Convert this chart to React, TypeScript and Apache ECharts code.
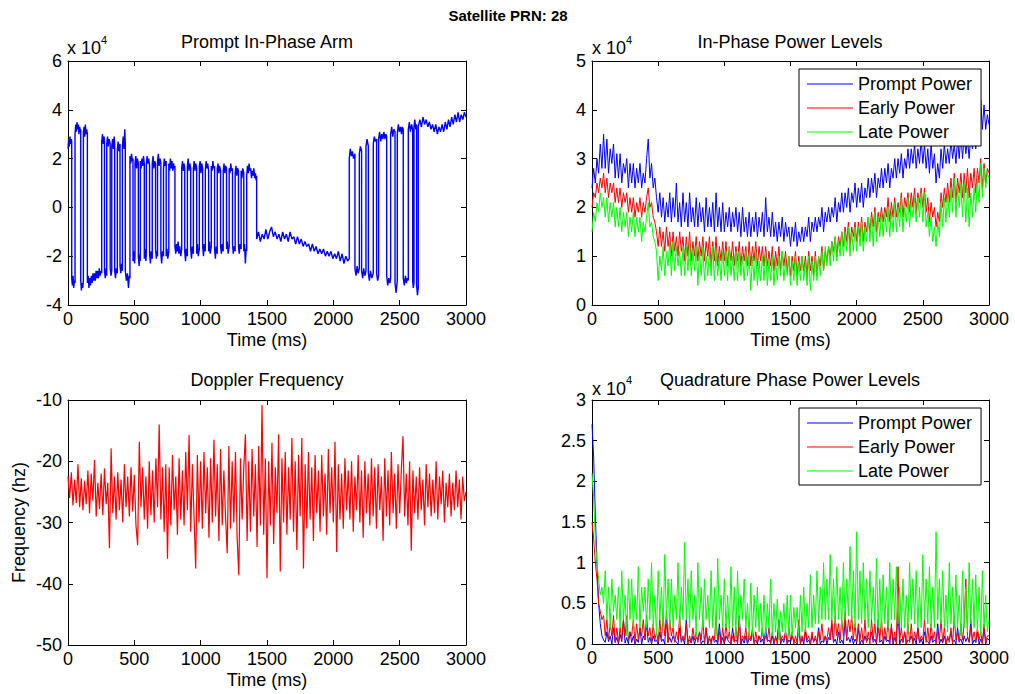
import React, { useEffect, useRef } from "react";
import * as echarts from "echarts";

const FONT = '"Liberation Sans", Arial, Helvetica, sans-serif';

// ---------- Prompt In-Phase Arm (x10^4) : [time ms, value] ----------
const inPhaseArm: [number, number][] = [
  [0,2.4],[5,2.8],[10,2.5],[15,2.9],[20,2.6],[25,2.8],[28,2.7],
  [28,-2.9],[33,-3.2],[38,-2.8],[43,-3.3],[48,-3.0],[53,-3.1],
  [53,3.0],[58,3.4],[63,3.1],[68,3.5],[73,3.2],[78,3.4],[83,3.0],[88,3.3],[93,3.1],[96,3.2],
  [96,-3.0],[101,-3.4],[106,-3.1],[111,-3.3],[116,-3.0],
  [116,3.1],[121,3.3],[126,2.9],[131,3.4],[136,3.0],[141,3.2],[146,3.0],
  [146,-3.1],[152,-2.8],[158,-3.3],[164,-2.9],[170,-3.2],[176,-2.8],[182,-3.1],[188,-2.7],[194,-3.0],[200,-2.7],[206,-3.0],[212,-2.6],[218,-2.9],[224,-2.6],[230,-2.9],[236,-2.5],[242,-2.8],[248,-2.6],[254,-2.7],
  [254,2.7],[260,3.0],[266,2.6],[272,2.9],[275,2.7],
  [275,-2.6],[281,-2.9],[287,-2.5],[292,-2.8],
  [292,2.6],[298,2.9],[304,2.5],[310,2.8],[318,2.6],
  [318,-2.5],[324,-2.8],[330,-2.6],
  [330,2.5],[336,2.8],[342,2.4],[348,2.9],[352,2.6],
  [352,-2.6],[358,-2.9],[364,-2.5],[372,-2.7],
  [372,2.4],[378,2.7],[384,2.3],[392,2.6],
  [392,-2.4],[398,-2.7],[404,-2.3],[410,-2.6],
  [410,2.5],[416,2.9],[422,2.4],[428,3.2],[432,2.6],
  [432,-2.6],[440,-3.0],[448,-2.7],[456,-3.3],[462,-2.8],[467,-2.9],
  [467,2.1],[473,1.8],[479,2.2],[485,1.9],[490,2.0],
  [490,-2.2],[496,-1.8],[502,-2.3],[505,-2.0],
  [505,1.8],[511,2.1],[517,1.6],[523,2.0],[530,1.8],
  [530,-2.0],[536,-2.4],[542,-1.9],[545,-2.2],
  [545,1.9],[551,1.6],[557,2.0],[563,1.7],[569,2.1],[575,1.8],
  [575,-2.1],[581,-1.7],[587,-2.2],[590,-1.9],
  [590,1.7],[596,2.1],[602,1.8],[608,2.0],[615,1.7],
  [615,-1.9],[621,-2.3],[627,-1.8],[635,-2.1],
  [635,1.8],[641,2.1],[647,1.6],[653,1.9],[660,1.8],
  [660,-1.7],[666,-2.1],[672,-1.8],[675,-2.0],
  [675,1.9],[681,2.2],[687,1.7],[694,2.0],[700,1.8],
  [700,-1.9],[706,-2.3],[712,-1.8],[720,-2.0],
  [720,1.6],[726,2.0],[732,1.7],[740,1.9],
  [740,-2.0],[746,-1.7],[752,-2.1],[760,-1.8],
  [760,1.8],[766,1.5],[772,2.0],[778,1.6],[784,1.9],[790,1.5],[796,1.8],[802,1.6],[806,1.7],
  [806,-1.6],[812,-1.9],[818,-1.5],[824,-1.8],[830,-1.4],[836,-1.9],[842,-1.6],[850,-2.0],[857,-1.7],
  [857,1.6],[863,1.9],[869,1.5],[875,1.8],[880,1.6],
  [880,-1.8],[886,-2.2],[892,-1.7],[900,-2.0],
  [900,1.7],[906,2.0],[912,1.5],[918,1.8],[925,1.6],
  [925,-1.7],[931,-2.1],[937,-1.6],[945,-1.9],
  [945,1.6],[951,1.9],[957,1.5],[963,1.8],[970,1.6],
  [970,-1.9],[976,-1.5],[982,-2.0],[990,-1.7],
  [990,1.7],[996,1.9],[1002,1.4],[1008,1.8],[1015,1.6],
  [1015,-1.6],[1021,-2.0],[1027,-1.5],[1035,-1.8],
  [1035,1.5],[1041,1.9],[1047,1.6],[1053,1.8],[1060,1.5],
  [1060,-1.8],[1066,-1.4],[1072,-1.9],[1080,-1.6],
  [1080,1.7],[1086,1.5],[1092,1.9],[1098,1.6],[1105,1.7],
  [1105,-1.7],[1111,-2.1],[1117,-1.6],[1125,-1.9],
  [1125,1.6],[1131,1.8],[1137,1.4],[1143,1.7],[1150,1.5],
  [1150,-1.6],[1156,-1.9],[1162,-1.5],[1170,-1.8],
  [1170,1.5],[1176,1.8],[1182,1.4],[1188,1.7],[1195,1.6],
  [1195,-1.7],[1201,-1.4],[1207,-1.9],[1215,-1.6],
  [1215,1.6],[1221,1.4],[1227,1.8],[1233,1.5],[1240,1.6],
  [1240,-1.5],[1246,-1.9],[1252,-1.6],[1260,-1.8],
  [1260,1.4],[1266,1.7],[1272,1.3],[1278,1.6],[1285,1.5],
  [1285,-1.6],[1291,-1.9],[1297,-1.5],[1305,-1.7],
  [1305,1.5],[1311,1.2],[1317,1.6],[1325,1.4],
  [1325,-1.8],[1331,-1.5],[1337,-2.3],[1343,-1.7],[1347,-1.8],
  [1347,1.3],[1353,1.7],[1359,1.4],[1365,1.8],[1371,1.5],[1377,1.6],[1383,1.2],[1389,1.5],[1395,1.3],[1401,1.6],[1407,1.2],[1413,1.4],[1418,1.1],[1422,1.3],
  [1422,-1.3],[1436,-1.0],[1450,-1.4],[1464,-1.1],[1478,-1.3],[1492,-0.9],[1506,-1.3],[1520,-1.0],[1534,-0.8],[1548,-1.2],[1562,-1.0],[1576,-1.3],[1590,-1.1],[1604,-1.4],[1618,-1.0],[1632,-1.3],[1646,-1.1],[1660,-1.4],[1674,-1.0],[1688,-1.3],[1702,-1.2],[1716,-1.5],[1730,-1.2],[1744,-1.5],[1758,-1.3],[1772,-1.6],[1786,-1.4],[1800,-1.6],[1814,-1.5],[1828,-1.8],[1842,-1.5],[1856,-1.8],[1870,-1.6],[1884,-1.9],[1898,-1.7],[1912,-1.9],[1926,-1.7],[1940,-2.0],[1954,-1.8],[1968,-2.0],[1982,-1.8],[1996,-2.1],[2010,-1.9],[2024,-2.1],[2038,-1.8],[2052,-2.2],[2066,-1.9],[2080,-2.3],[2094,-2.0],[2108,-2.2],[2120,-2.1],
  [2120,2.0],[2128,2.4],[2136,2.1],[2144,2.3],[2152,2.0],[2163,2.2],
  [2163,-2.5],[2171,-2.8],[2179,-2.4],[2187,-2.7],[2196,-2.5],
  [2196,2.2],[2204,2.5],[2213,2.3],
  [2213,-2.6],[2221,-2.9],[2229,-2.5],[2237,-2.8],[2246,-2.6],
  [2246,2.5],[2254,2.8],[2264,2.5],
  [2264,-2.7],[2272,-3.0],[2280,-2.6],[2290,-2.9],[2301,-2.7],
  [2301,2.6],[2309,2.9],[2317,2.7],[2326,2.8],
  [2326,-2.7],[2334,-3.0],[2341,-2.8],
  [2341,2.8],[2349,3.1],[2357,2.7],[2365,3.0],[2373,2.8],[2381,3.1],[2389,2.8],[2396,3.0],[2402,2.9],
  [2402,-2.8],[2410,-3.2],[2418,-2.9],[2426,-3.1],[2432,-2.9],
  [2432,3.0],[2440,3.3],[2448,2.9],[2456,3.2],[2465,3.1],
  [2465,-3.1],[2473,-3.5],[2482,-3.0],
  [2482,3.0],[2490,3.4],[2498,3.1],[2506,3.3],[2514,3.0],[2520,3.3],[2527,3.2],
  [2527,-2.9],[2535,-3.2],[2543,-2.8],[2551,-3.1],[2558,-2.9],[2565,-3.0],
  [2565,3.2],[2573,3.5],[2581,3.1],[2590,3.4],[2598,3.2],
  [2598,-3.0],[2603,-3.3],[2608,-3.1],
  [2608,3.3],[2614,3.6],[2621,3.2],[2628,3.4],
  [2628,-3.2],[2634,-3.6],[2640,-3.3],
  [2640,3.3],[2652,3.6],[2664,3.3],[2676,3.7],[2688,3.4],[2700,3.6],[2712,3.3],[2724,3.5],[2736,3.2],[2748,3.4],[2760,3.1],[2772,3.4],[2784,3.0],[2796,3.3],[2808,3.1],[2820,3.4],[2832,3.1],[2844,3.5],[2856,3.2],[2868,3.6],[2880,3.3],[2892,3.7],[2904,3.4],[2916,3.8],[2928,3.5],[2940,3.9],[2952,3.5],[2964,3.8],[2976,3.6],[2988,3.9],[3000,3.7],
];

// ---------- In-Phase Power Levels (x10^4), one sample every POWER_STEP_MS ----------
const POWER_STEP_MS = 12.5;
const ipPrompt = [
  2.4,2.8,2.5,3.0,2.7,3.3,2.8,3.5, 2.8,3.4,2.7,3.2,2.9,3.3,2.6,3.1,
  2.6,3.1,2.5,2.9,2.7,3.0,2.4,2.9, 2.5,2.9,2.4,2.8,2.5,2.9,2.4,2.7,
  2.5,3.0,3.4,2.6,2.9,2.4,2.6,2.2, 1.9,2.3,1.8,2.2,1.7,2.1,1.8,2.3,
  1.7,2.2,1.8,2.5,1.7,2.1,1.6,2.3, 1.7,2.1,1.6,2.3,1.7,2.0,1.6,2.2,
  1.6,2.1,1.7,2.0,1.5,2.2,1.6,2.0, 1.6,2.1,1.5,2.3,1.6,2.0,1.5,2.1,
  1.5,1.9,1.6,2.0,1.5,1.9,1.6,2.0, 1.5,1.9,1.4,2.0,1.5,1.8,1.4,1.9,
  1.4,1.8,1.5,1.9,1.4,1.8,1.5,1.9, 1.4,2.2,1.5,1.8,1.4,1.9,1.4,1.7,
  1.3,1.7,1.4,1.8,1.3,1.7,1.4,1.6, 1.2,1.6,1.3,1.7,1.2,1.5,1.3,1.6,
  1.3,1.6,1.4,1.8,1.3,1.7,1.5,1.8, 1.5,1.8,1.6,2.0,1.5,1.9,1.7,2.0,
  1.7,2.0,1.8,2.2,1.7,2.1,1.9,2.3, 1.9,2.3,2.0,2.4,1.9,2.3,2.1,2.5,
  2.0,2.4,2.1,2.5,2.0,2.4,2.2,2.6, 2.2,2.6,2.3,2.7,2.2,2.6,2.4,2.8,
  2.4,2.8,2.5,2.9,2.4,2.8,2.6,3.0, 2.6,3.0,2.7,3.1,2.6,3.0,2.8,3.2,
  2.8,3.2,2.9,3.3,2.8,3.2,2.9,3.4, 2.9,3.3,2.8,3.2,2.7,3.3,2.8,3.1,
  2.5,2.9,2.6,3.2,2.8,3.3,2.9,3.2, 2.9,3.4,3.0,3.3,2.9,3.4,3.0,3.5,
  3.0,3.5,3.1,3.4,3.0,3.5,3.2,3.6, 3.2,3.6,3.4,4.2,3.6,4.1,3.6,3.9,
  3.7,
];
const ipEarly = [
  2.0,2.3,2.2,2.5,2.3,2.6,2.4,2.7, 2.3,2.6,2.2,2.5,2.3,2.5,2.1,2.4,
  2.1,2.4,2.0,2.3,2.1,2.3,1.9,2.2, 1.9,2.2,1.8,2.1,1.9,2.2,1.8,2.1,
  1.9,2.2,2.4,2.0,2.1,1.8,1.7,1.5, 1.2,1.6,1.2,1.5,1.1,1.6,1.2,1.5,
  1.0,1.5,1.1,1.4,1.0,1.5,1.1,1.4, 0.9,1.4,1.0,1.5,0.9,1.3,1.0,1.4,
  0.9,1.3,1.0,1.4,0.9,1.3,1.0,1.4, 0.8,1.3,0.9,1.4,0.8,1.2,0.9,1.3,
  0.9,1.3,0.8,1.2,0.9,1.3,0.8,1.2, 0.9,1.3,0.8,1.2,0.9,1.2,0.8,1.3,
  0.8,1.2,0.9,1.3,0.8,1.2,0.9,1.2, 0.8,1.2,0.8,1.1,0.8,1.2,0.7,1.1,
  0.8,1.2,0.7,1.1,0.8,1.1,0.7,1.0, 0.6,1.0,0.7,1.1,0.6,1.0,0.7,1.0,
  0.7,1.0,0.6,1.1,0.7,1.0,0.6,1.1, 0.6,1.0,0.8,1.2,0.7,1.1,0.9,1.2,
  1.0,1.3,1.1,1.4,1.0,1.4,1.2,1.5, 1.2,1.6,1.3,1.7,1.2,1.6,1.4,1.7,
  1.3,1.7,1.4,1.8,1.3,1.7,1.5,1.8, 1.5,1.9,1.6,2.0,1.5,1.9,1.7,2.0,
  1.7,2.0,1.8,2.2,1.7,2.1,1.8,2.2, 1.8,2.1,1.9,2.3,1.8,2.2,2.0,2.3,
  1.9,2.3,2.0,2.4,1.9,2.3,2.1,2.4, 2.0,2.4,1.9,2.2,1.7,2.1,1.8,2.0,
  1.6,1.9,1.7,2.3,2.0,2.4,2.1,2.5, 2.1,2.6,2.2,2.7,2.1,2.6,2.3,2.7,
  2.2,2.7,2.3,2.8,2.2,2.7,2.4,2.8, 2.3,2.8,2.5,3.0,2.4,2.9,2.5,2.8,
  2.7,
];
const ipLate = [
  1.5,1.9,1.7,2.1,1.9,2.3,2.0,2.2, 1.8,2.2,1.7,2.1,1.8,2.1,1.6,2.0,
  1.6,2.0,1.5,1.9,1.6,1.9,1.4,1.8, 1.5,1.9,1.4,1.8,1.5,1.8,1.3,1.7,
  1.5,1.8,2.1,1.6,1.7,1.4,1.3,1.1, 0.5,1.0,0.7,1.2,0.6,1.1,0.8,1.3,
  0.6,1.3,0.7,1.2,0.8,1.1,0.6,1.2, 0.6,1.2,0.7,1.3,0.6,1.1,0.7,1.2,
  0.4,1.1,0.6,1.2,0.5,1.0,0.6,1.1, 0.6,1.2,0.5,1.1,0.6,1.0,0.5,1.1,
  0.6,1.1,0.5,1.2,0.6,1.0,0.5,1.1, 0.5,1.1,0.6,1.0,0.5,1.1,0.6,1.0,
  0.3,1.0,0.5,1.1,0.4,0.9,0.5,1.0, 0.5,1.1,0.4,0.9,0.5,1.0,0.4,0.9,
  0.5,1.0,0.6,1.1,0.5,0.9,0.6,1.0, 0.4,0.9,0.5,1.0,0.4,0.9,0.5,1.0,
  0.5,0.9,0.4,1.0,0.3,0.9,0.5,1.0, 0.5,1.0,0.6,1.1,0.7,1.2,0.8,1.2,
  0.8,1.3,0.9,1.4,0.9,1.3,1.0,1.5, 1.0,1.5,1.1,1.6,1.0,1.5,1.1,1.6,
  1.1,1.6,1.2,1.7,1.1,1.6,1.3,1.8, 1.3,1.8,1.2,1.9,1.3,1.8,1.4,1.9,
  1.4,1.9,1.5,2.0,1.4,1.9,1.5,2.1, 1.5,2.0,1.6,2.2,1.5,2.0,1.7,2.2,
  1.6,2.1,1.8,2.2,1.7,2.2,1.8,2.3, 1.7,2.3,1.6,1.9,1.4,1.8,1.3,1.6,
  1.2,1.7,1.4,2.1,1.6,2.2,1.7,2.3, 1.8,2.4,1.9,2.6,1.8,2.4,2.0,2.5,
  1.8,2.5,1.7,2.4,1.6,2.3,1.8,2.4, 1.9,2.6,2.1,2.9,2.2,2.8,2.4,2.7,
  2.6,
];

// ---------- Doppler Frequency (hz), one sample every DOPPLER_STEP_MS ----------
const DOPPLER_STEP_MS = 12.5;
const doppler = [
  -22.5,-26.0,-21.8,-27.2,-23.0,-26.8,-20.5,-27.5,-22.8,-28.0,
  -23.2,-27.0,-21.5,-28.5,-22.0,-26.5,-19.8,-29.0,-23.5,-27.8,
  -22.0,-28.8,-21.2,-27.0,-23.5,-34.2,-17.9,-28.5,-22.5,-29.5,
  -21.8,-28.0,-23.0,-30.0,-20.5,-27.5,-22.5,-29.0,-21.0,-28.2,
  -22.2,-30.5,-33.7,-16.8,-27.5,-21.0,-29.5,-22.5,-31.0,-20.0,
  -28.8,-21.5,-30.0,-19.5,-27.5,-14.0,-29.5,-21.0,-31.5,-20.5,
  -35.9,-21.0,-30.5,-19.0,-28.0,-22.5,-32.0,-19.5,-29.5,-21.5,
  -30.5,-18.5,-28.0,-15.7,-31.5,-20.5,-29.0,-37.5,-19.0,-30.0,
  -20.0,-31.0,-18.5,-28.5,-21.0,-32.5,-19.5,-30.0,-16.5,-29.0,
  -20.5,-33.0,-18.0,-30.5,-21.5,-29.0,-35.0,-17.5,-31.0,-20.0,
  -30.0,-18.5,-32.5,-38.6,-19.5,-29.5,-21.0,-15.6,-33.0,-20.0,
  -31.5,-18.0,-29.0,-20.5,-34.0,-17.5,-30.5,-10.8,-32.0,-19.5,
  -39.1,-20.0,-30.5,-17.0,-33.5,-21.0,-28.5,-15.6,-38.0,-19.5,
  -30.0,-18.5,-32.0,-21.0,-29.5,-16.2,-31.5,-20.0,-34.5,-19.0,
  -29.0,-16.2,-37.5,-20.5,-31.0,-18.5,-29.5,-21.0,-33.0,-19.0,
  -28.5,-21.5,-31.5,-19.0,-29.0,-22.0,-32.0,-18.0,-28.5,-21.0,
  -30.0,-16.8,-34.8,-20.5,-29.5,-22.0,-31.0,-19.5,-28.0,-21.5,
  -29.5,-20.0,-31.5,-22.5,-28.0,-19.0,-30.0,-21.5,-32.5,-20.0,
  -28.5,-22.0,-30.5,-19.5,-29.0,-21.0,-31.0,-20.5,-28.0,-22.5,
  -33.0,-19.5,-29.0,-21.5,-30.5,-18.5,-28.5,-22.0,-31.0,-20.5,
  -28.5,-21.5,-15.9,-29.0,-22.0,-30.5,-20.0,-34.6,-21.5,-28.5,
  -22.5,-29.5,-21.0,-28.0,-23.0,-30.5,-20.5,-27.5,-22.0,-29.0,
  -23.0,-28.5,-20.0,-29.5,-22.5,-27.0,-21.5,-30.0,-23.5,-27.5,
  -22.0,-29.0,-23.5,-28.0,-21.5,-27.5,-23.0,-29.5,-22.5,-26.5,
  -25.0,
];

// ---------- Quadrature Phase Power Levels (x10^4), one sample every POWER_STEP_MS ----------
const qpPrompt = [
  2.7,2.3,1.6,1.0,0.5,0.25,0.1,0.05, 0.02,0.15,0.03,0.1,0.0,0.2,0.02,0.08,
  0.0,0.12,0.03,0.3,0.01,0.08,0.0,0.15, 0.02,0.1,0.0,0.06,0.02,0.2,0.0,0.1,
  0.05,0.25,0.02,0.08,0.0,0.1,0.03,0.05, 0.0,0.15,0.03,0.06,0.0,0.4,0.02,0.08,
  0.02,0.1,0.05,0.02,0.0,0.2,0.03,0.07, 0.0,0.3,0.02,0.05,0.01,0.1,0.0,0.08,
  0.05,0.15,0.0,0.04,0.02,0.2,0.0,0.06, 0.03,0.1,0.02,0.05,0.0,0.25,0.01,0.08,
  0.0,0.1,0.05,0.02,0.0,0.2,0.03,0.05, 0.02,0.35,0.0,0.06,0.01,0.1,0.0,0.07,
  0.04,0.15,0.02,0.05,0.0,0.1,0.02,0.06, 0.0,0.2,0.03,0.05,0.01,0.1,0.0,0.08,
  0.05,0.3,0.0,0.06,0.02,0.15,0.0,0.05, 0.02,0.1,0.04,0.02,0.0,0.2,0.01,0.07,
  0.0,0.15,0.02,0.05,0.0,0.1,0.03,0.06, 0.03,0.2,0.0,0.04,0.02,0.1,0.0,0.08,
  0.05,0.25,0.02,0.06,0.0,0.15,0.01,0.05, 0.0,0.3,0.04,0.08,0.02,0.1,0.0,0.06,
  0.02,0.2,0.0,0.05,0.01,0.1,0.03,0.07, 0.05,0.15,0.02,0.06,0.0,0.3,0.02,0.05,
  0.0,0.1,0.03,0.05,0.01,0.2,0.0,0.08, 0.02,0.4,0.0,0.06,0.02,0.15,0.0,0.05,
  0.04,0.1,0.02,0.07,0.0,0.2,0.01,0.06, 0.0,0.15,0.05,0.03,0.0,0.1,0.02,0.05,
  0.02,0.25,0.0,0.06,0.01,0.1,0.0,0.07, 0.05,0.15,0.02,0.05,0.0,0.2,0.03,0.06,
  0.0,0.1,0.03,0.08,0.02,0.3,0.0,0.05, 0.02,0.15,0.0,0.06,0.01,0.2,0.0,0.07,
  0.05,
];
const qpEarly = [
  1.5,1.3,1.0,0.8,0.5,0.4,0.3,0.35, 0.1,0.3,0.05,0.25,0.1,0.35,0.02,0.2,
  0.02,0.2,0.05,0.3,0.1,0.35,0.05,0.15, 0.1,0.3,0.02,0.25,0.05,0.2,0.1,0.3,
  0.05,0.35,0.1,0.2,0.02,0.25,0.05,0.15, 0.02,0.3,0.05,0.35,0.1,0.25,0.02,0.3,
  0.1,0.2,0.02,0.15,0.05,0.35,0.02,0.1, 0.05,0.25,0.0,0.1,0.02,0.2,0.05,0.15,
  0.02,0.15,0.05,0.3,0.0,0.2,0.02,0.1, 0.0,0.1,0.05,0.35,0.02,0.15,0.0,0.2,
  0.02,0.25,0.05,0.15,0.0,0.1,0.02,0.2, 0.0,0.3,0.02,0.1,0.05,0.2,0.0,0.15,
  0.05,0.2,0.0,0.15,0.02,0.1,0.05,0.2, 0.02,0.1,0.05,0.2,0.0,0.15,0.02,0.1,
  0.0,0.25,0.02,0.1,0.05,0.15,0.0,0.2, 0.05,0.15,0.0,0.1,0.02,0.3,0.0,0.1,
  0.02,0.2,0.05,0.1,0.0,0.15,0.02,0.1, 0.0,0.15,0.05,0.25,0.02,0.1,0.05,0.2,
  0.05,0.3,0.02,0.35,0.1,0.25,0.05,0.3, 0.1,0.4,0.05,0.3,0.15,0.35,0.05,0.25,
  0.02,0.25,0.05,0.2,0.0,0.3,0.02,0.15, 0.0,0.3,0.05,0.25,0.02,0.2,0.05,0.3,
  0.02,0.2,0.05,0.3,0.0,0.25,0.02,0.15, 0.0,0.95,0.05,0.2,0.02,0.15,0.0,0.25,
  0.02,0.25,0.0,0.15,0.05,0.2,0.02,0.1, 0.05,0.3,0.02,0.2,0.0,0.25,0.05,0.15,
  0.0,0.15,0.05,0.3,0.02,0.2,0.0,0.1, 0.02,0.2,0.0,0.35,0.05,0.15,0.02,0.25,
  0.05,0.25,0.8,0.1,0.02,0.2,0.05,0.15, 0.02,0.2,0.05,0.15,0.0,0.25,0.02,0.1,
  0.1,
];
const qpLate = [
  2.1,1.8,1.3,1.0,0.8,0.6,0.7,0.5, 0.9,0.3,0.7,0.2,0.8,0.4,0.6,0.3,
  0.7,0.2,0.9,0.3,0.6,0.1,0.8,0.3, 0.8,0.2,0.6,0.3,0.95,0.2,0.7,0.4,
  0.7,0.2,0.8,0.3,1.0,0.2,0.6,0.1, 0.9,0.3,0.7,0.2,1.1,0.3,0.8,0.2,
  0.8,0.2,0.6,0.3,1.0,0.2,0.7,0.3, 1.25,0.3,0.8,0.2,0.9,0.3,0.6,0.1,
  1.0,0.3,0.7,0.2,0.8,0.3,0.6,0.2, 0.9,0.2,0.7,0.1,1.05,0.3,0.6,0.2,
  0.8,0.2,0.6,0.15,0.95,0.2,0.7,0.1, 0.9,0.2,0.6,0.3,0.8,0.2,0.5,0.1,
  0.75,0.1,0.6,0.2,0.7,0.15,0.5,0.1, 0.6,0.1,0.5,0.2,0.8,0.1,0.5,0.15,
  0.55,0.05,0.4,0.15,0.5,0.1,0.6,0.1, 0.6,0.1,0.45,0.2,0.45,0.1,0.6,0.15,
  0.7,0.15,0.5,0.2,0.85,0.2,0.6,0.25, 0.9,0.25,0.7,0.3,1.0,0.3,0.8,0.3,
  1.1,0.3,0.8,0.25,0.95,0.3,0.7,0.2, 1.0,0.3,0.8,0.35,1.2,0.3,0.9,0.2,
  1.38,0.3,0.9,0.25,1.0,0.3,0.8,0.2, 0.9,0.3,0.7,0.25,1.05,0.2,0.8,0.15,
  0.85,0.25,0.7,0.2,1.0,0.3,0.8,0.3, 0.95,0.25,0.7,0.2,0.8,0.2,0.6,0.15,
  1.0,0.3,0.8,0.25,0.9,0.2,0.7,0.2, 1.1,0.3,0.8,0.25,0.95,0.2,0.7,0.2,
  1.38,0.3,0.8,0.25,0.9,0.2,0.6,0.15, 1.0,0.25,0.7,0.2,0.85,0.2,0.6,0.1,
  0.9,0.2,0.7,0.15,1.0,0.25,0.8,0.2, 0.85,0.15,0.7,0.1,0.9,0.2,0.6,0.15,
  0.3,
];

// ---------- Axis ticks ----------
const TIME_MIN = 0;
const TIME_MAX = 3000;
const TIME_STEP = 500;
const POWER_NAMES = ["Prompt Power", "Early Power", "Late Power"];
const BLUE = "#0000ff";
const RED = "#ff0000";
const GREEN = "#00ff00";

function withTime(values: number[], step: number): [number, number][] {
  return values.map((v, i) => [i * step, v]);
}

const GRIDS = [
  { left: 68, top: 61, width: 398, height: 244 },
  { left: 592, top: 61, width: 397, height: 244 },
  { left: 68, top: 400, width: 398, height: 245 },
  { left: 592, top: 400, width: 397, height: 244 },
];

const Y_RANGES = [
  { min: -4, max: 6, interval: 2, name: "" },
  { min: 0, max: 5, interval: 1, name: "" },
  { min: -50, max: -10, interval: 10, name: "Frequency (hz)" },
  { min: 0, max: 3, interval: 0.5, name: "" },
];

const plain = (v: number) => String(v);

function buildAxes() {
  const xAxis: any[] = [];
  const yAxis: any[] = [];
  const line = { show: true, onZero: false, lineStyle: { color: "#000", width: 1 } };
  const tick = { show: true, inside: true, length: 5, lineStyle: { color: "#000", width: 1 } };
  GRIDS.forEach((_, g) => {
    const xb = {
      type: "value", gridIndex: g, min: TIME_MIN, max: TIME_MAX, interval: TIME_STEP,
      splitLine: { show: false }, axisLine: line, axisTick: tick,
    };
    xAxis.push({
      ...xb, position: "bottom",
      axisLabel: { color: "#000", fontSize: 18, fontFamily: FONT, margin: 5, formatter: plain },
      name: "Time (ms)", nameLocation: "middle", nameGap: 26,
      nameTextStyle: { color: "#000", fontSize: 18, fontFamily: FONT },
    });
    xAxis.push({ ...xb, position: "top", axisLabel: { show: false } });
    const r = Y_RANGES[g];
    const yb = {
      type: "value", gridIndex: g, min: r.min, max: r.max, interval: r.interval,
      splitLine: { show: false }, axisLine: line, axisTick: tick,
    };
    yAxis.push({
      ...yb, position: "left",
      axisLabel: { color: "#000", fontSize: 18, fontFamily: FONT, margin: 6, formatter: plain },
      name: r.name, nameLocation: "middle", nameGap: 40,
      nameTextStyle: { color: "#000", fontSize: 18, fontFamily: FONT },
    });
    yAxis.push({ ...yb, position: "right", axisLabel: { show: false } });
  });
  return { xAxis, yAxis };
}

function lineSeries(name: string, g: number, color: string, data: [number, number][], width = 1) {
  return {
    type: "line", name, xAxisIndex: 2 * g, yAxisIndex: 2 * g, data,
    showSymbol: false, symbol: "none", smooth: false,
    lineStyle: { color, width }, itemStyle: { color },
    emphasis: { disabled: true }, silent: true,
  };
}

function legendAt(top: number) {
  return {
    orient: "vertical", left: 799, top,
    data: POWER_NAMES, icon: "rect", itemWidth: 46, itemHeight: 1, itemGap: 6,
    padding: [6, 9, 5, 8], borderColor: "#000", borderWidth: 1, backgroundColor: "#fff",
    selectedMode: false,
    textStyle: { color: "#000", fontSize: 18, fontFamily: FONT, lineHeight: 18 },
  };
}

function txt(text: string, x: number, y: number, size: number, align = "center", bold = false) {
  return {
    type: "text", x, y, silent: true,
    style: {
      text, fill: "#000", align, verticalAlign: "middle",
      font: `${bold ? "bold " : ""}${size}px ${FONT}`,
    },
  };
}

export default function App() {
  const ref = useRef<HTMLDivElement>(null);
  useEffect(() => {
    if (!ref.current) return;
    const chart = echarts.init(ref.current, undefined, { renderer: "svg" });
    const { xAxis, yAxis } = buildAxes();
    chart.setOption({
      animation: false,
      backgroundColor: "#fff",
      grid: GRIDS.map((g) => ({ ...g, containLabel: false, outerBoundsMode: "none" })),
      xAxis,
      yAxis,
      legend: [legendAt(69), legendAt(408)],
      series: [
        lineSeries("Prompt In-Phase", 0, BLUE, inPhaseArm, 1.4),
        lineSeries(POWER_NAMES[0], 1, BLUE, withTime(ipPrompt, POWER_STEP_MS)),
        lineSeries(POWER_NAMES[1], 1, RED, withTime(ipEarly, POWER_STEP_MS)),
        lineSeries(POWER_NAMES[2], 1, GREEN, withTime(ipLate, POWER_STEP_MS)),
        lineSeries("Doppler", 2, RED, withTime(doppler, DOPPLER_STEP_MS), 1.2),
        lineSeries(POWER_NAMES[0], 3, BLUE, withTime(qpPrompt, POWER_STEP_MS)),
        lineSeries(POWER_NAMES[1], 3, RED, withTime(qpEarly, POWER_STEP_MS)),
        lineSeries(POWER_NAMES[2], 3, GREEN, withTime(qpLate, POWER_STEP_MS)),
      ],
      graphic: [
        txt("Satellite PRN: 28", 508, 15, 15, "center", true),
        txt("Prompt In-Phase Arm", 267, 42, 18),
        txt("In-Phase Power Levels", 790, 42, 18),
        txt("Doppler Frequency", 267, 380, 18),
        txt("Quadrature Phase Power Levels", 790, 380, 18),
        txt("x 10", 67, 48, 18, "left"),
        txt("4", 101, 40, 11, "left"),
        txt("x 10", 592, 48, 18, "left"),
        txt("4", 626, 40, 11, "left"),
        txt("x 10", 592, 389, 18, "left"),
        txt("4", 626, 380, 11, "left"),
      ],
    });
    return () => chart.dispose();
  }, []);
  return (
    <div
      ref={ref}
      style={{ position: "fixed", left: 0, top: 0, width: 1015, height: 694, background: "#fff" }}
    />
  );
}
